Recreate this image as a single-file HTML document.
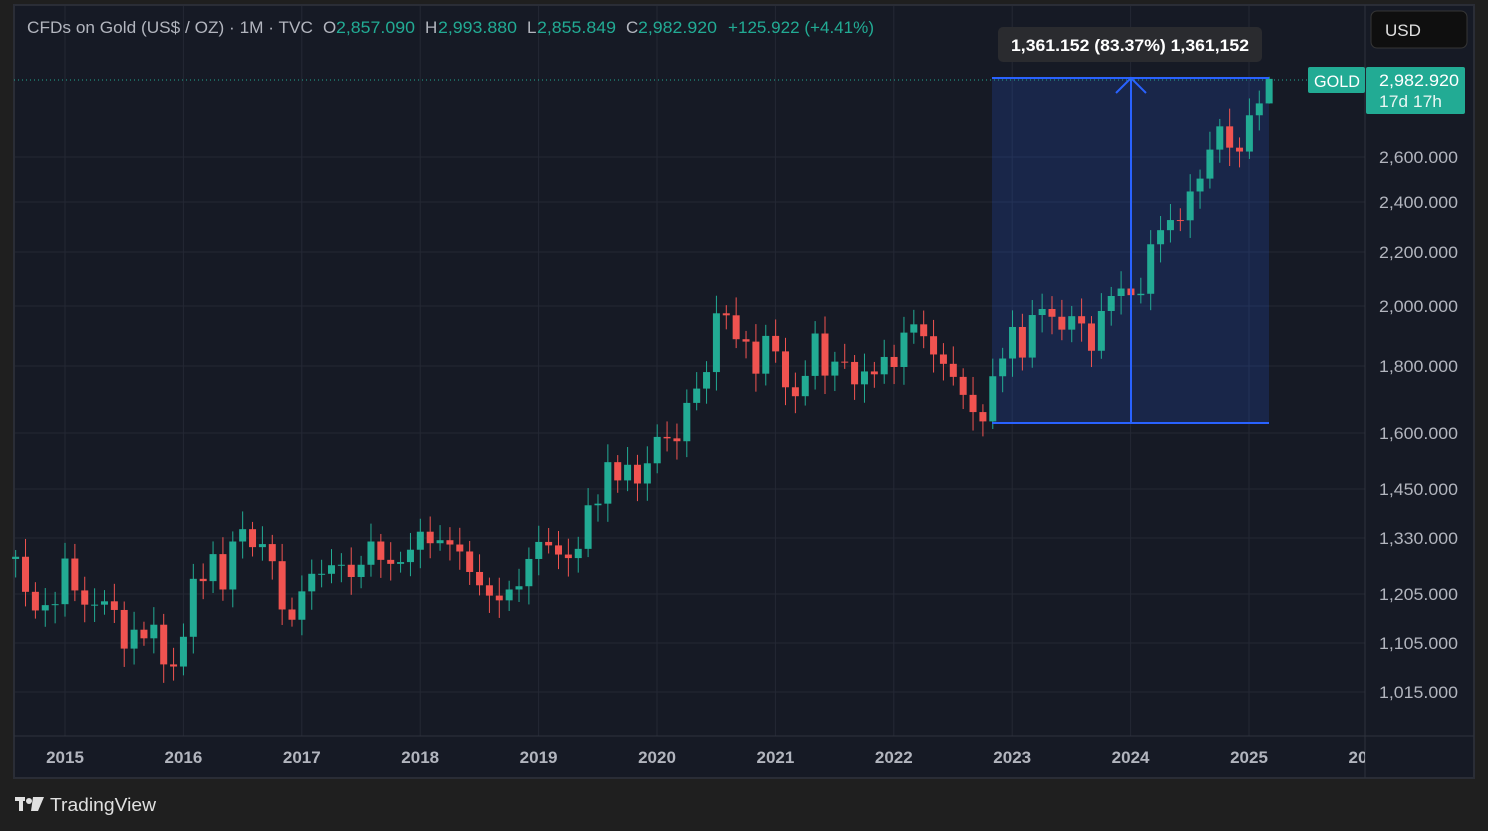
<!DOCTYPE html>
<html><head><meta charset="utf-8"><style>
body{margin:0;width:1488px;height:831px;background:#1f1f1f;overflow:hidden;font-family:"Liberation Sans",sans-serif}
svg{position:absolute;left:0;top:0}
</style></head><body>
<svg width="1488" height="831" xmlns="http://www.w3.org/2000/svg" font-family="Liberation Sans, sans-serif">
<rect x="14" y="5" width="1460" height="773" fill="#161a25" stroke="#2a2d36" stroke-width="2"/>
<g id="grid" stroke="#242834" stroke-width="1"></g>
<line x1="1365" y1="5" x2="1365" y2="778" stroke="#2e323d"/>
<line x1="14" y1="736" x2="1474" y2="736" stroke="#2e323d"/>
<rect x="992" y="78" width="277" height="345" fill="#2962ff" fill-opacity="0.17"/>
<g id="candles"></g>
<line x1="992" y1="78" x2="1269" y2="78" stroke="#2962ff" stroke-width="2"/>
<line x1="992" y1="423" x2="1269" y2="423" stroke="#2962ff" stroke-width="2"/>
<line x1="1131" y1="423" x2="1131" y2="79" stroke="#2962ff" stroke-width="2"/>
<polyline points="1116,93 1131,78 1146,93" fill="none" stroke="#2962ff" stroke-width="2"/>
<line x1="14" y1="80" x2="1308" y2="80" stroke="#22ab94" stroke-dasharray="1,3"/>
<rect x="998" y="27" width="264" height="35" rx="5" fill="#2a2b2f"/>
<text x="1011" y="51" fill="#fff" font-size="17" font-weight="bold" textLength="238" lengthAdjust="spacingAndGlyphs">1,361.152 (83.37%) 1,361,152</text>
<g font-size="17" fill="#b2b5be">
<text x="27" y="33" textLength="286" lengthAdjust="spacingAndGlyphs">CFDs on Gold (US$ / OZ) · 1M · TVC</text>
<text x="323" y="33">O</text><text x="336" y="33" fill="#22ab94" textLength="79" lengthAdjust="spacingAndGlyphs">2,857.090</text>
<text x="425" y="33">H</text><text x="438" y="33" fill="#22ab94" textLength="79" lengthAdjust="spacingAndGlyphs">2,993.880</text>
<text x="527" y="33">L</text><text x="537" y="33" fill="#22ab94" textLength="79" lengthAdjust="spacingAndGlyphs">2,855.849</text>
<text x="626" y="33">C</text><text x="638" y="33" fill="#22ab94" textLength="79" lengthAdjust="spacingAndGlyphs">2,982.920</text>
<text x="728" y="33" fill="#22ab94" textLength="146" lengthAdjust="spacingAndGlyphs">+125.922 (+4.41%)</text>
</g>
<rect x="1371" y="11" width="96" height="37" rx="6" fill="#0f0f0f" stroke="#363636"/>
<text x="1385" y="36" font-size="17" fill="#e0e0e0">USD</text>
<rect x="1308" y="67" width="57" height="26" rx="2" fill="#22ab94"/>
<text x="1314" y="87" font-size="17" fill="#fff" textLength="46" lengthAdjust="spacingAndGlyphs">GOLD</text>
<rect x="1366" y="67" width="99" height="47" rx="2" fill="#22ab94"/>
<text x="1379" y="86" font-size="17" fill="#fff" textLength="80" lengthAdjust="spacingAndGlyphs">2,982.920</text>
<text x="1379" y="107" font-size="17" fill="#e8f6f3" textLength="63" lengthAdjust="spacingAndGlyphs">17d 17h</text>
<g font-size="17" fill="#b2b5be">
<text x="1379" y="163" textLength="79" lengthAdjust="spacingAndGlyphs">2,600.000</text><text x="1379" y="208" textLength="79" lengthAdjust="spacingAndGlyphs">2,400.000</text><text x="1379" y="258" textLength="79" lengthAdjust="spacingAndGlyphs">2,200.000</text><text x="1379" y="312" textLength="79" lengthAdjust="spacingAndGlyphs">2,000.000</text><text x="1379" y="372" textLength="79" lengthAdjust="spacingAndGlyphs">1,800.000</text><text x="1379" y="439" textLength="79" lengthAdjust="spacingAndGlyphs">1,600.000</text><text x="1379" y="495" textLength="79" lengthAdjust="spacingAndGlyphs">1,450.000</text><text x="1379" y="544" textLength="79" lengthAdjust="spacingAndGlyphs">1,330.000</text><text x="1379" y="600" textLength="79" lengthAdjust="spacingAndGlyphs">1,205.000</text><text x="1379" y="649" textLength="79" lengthAdjust="spacingAndGlyphs">1,105.000</text><text x="1379" y="698" textLength="79" lengthAdjust="spacingAndGlyphs">1,015.000</text>
</g>
<svg x="14" y="736" width="1351" height="42"><g id="years" font-size="17" font-weight="bold" fill="#b2b5be" text-anchor="middle"></g></svg>
<g fill="#e0e0e0"><rect x="15" y="797" width="10" height="4"/><rect x="19" y="797" width="4" height="14"/><circle cx="29" cy="801" r="3"/><polygon points="33,797 44,797 38,811 31,811"/></g>
<text x="50" y="811" font-size="18" fill="#e0e0e0" textLength="106" lengthAdjust="spacingAndGlyphs">TradingView</text>
</svg>
<script>
const NS="http://www.w3.org/2000/svg";
function Y(p){return 433-(Math.log(p)-Math.log(1600))*568.5}
function X(m){return 65+m*9.87}
const g=document.getElementById('grid');
[157,202,252,306,366,433,489,538,594,643,692].forEach(y=>{let l=document.createElementNS(NS,'line');l.setAttribute('x1',15);l.setAttribute('x2',1365);l.setAttribute('y1',y);l.setAttribute('y2',y);g.appendChild(l)});
const yg=document.getElementById('years');
for(let i=0;i<12;i++){let x=65+i*118.4;if(i<11){let l=document.createElementNS(NS,'line');l.setAttribute('x1',x);l.setAttribute('x2',x);l.setAttribute('y1',6);l.setAttribute('y2',736);g.appendChild(l);}
let t=document.createElementNS(NS,'text');t.setAttribute('x',x-14);t.setAttribute('y',27);t.textContent=String(2015+i);yg.appendChild(t)}
const closes=[1287,1210,1171,1182,1184,
1283,1213,1183,1183,1190,1172,1095,1132,1115,1142,1065,1061,
1118,1238,1233,1293,1215,1322,1351,1309,1316,1277,1173,1152,
1211,1249,1249,1268,1269,1242,1269,1322,1280,1271,1275,1303,
1345,1318,1325,1315,1299,1253,1224,1202,1192,1215,1222,1282,
1321,1313,1292,1284,1305,1409,1413,1520,1472,1513,1464,1517,
1589,1585,1577,1687,1730,1781,1975,1968,1887,1879,1776,1898,
1847,1734,1707,1769,1906,1770,1814,1813,1743,1783,1774,1829,
1797,1909,1937,1897,1837,1807,1766,1711,1660,1633,1768,1824,
1928,1827,1969,1990,1963,1919,1965,1940,1849,1983,2036,2063,
2039,2044,2230,2286,2327,2326,2447,2503,2634,2744,2643,2625,
2798,2857,2983];
const c=document.getElementById('candles');let prev=1282;
closes.forEach((cl,i)=>{const m=i-5;const x=X(m);const o=prev;prev=cl;
const up=cl>=o;const col=up?'#22ab94':'#f05350';
const r1=0.012+0.02*Math.abs(Math.sin(i*1.7)),r2=0.012+0.02*Math.abs(Math.cos(i*2.3));
let h=Math.max(o,cl)*(1+r1),lo=Math.min(o,cl)*(1-r2);
if(i==closes.length-1){h=2993.88;lo=2855.85}
const w=document.createElementNS(NS,'line');w.setAttribute('x1',x);w.setAttribute('x2',x);w.setAttribute('y1',Y(h));w.setAttribute('y2',Y(lo));w.setAttribute('stroke',col);c.appendChild(w);
const b=document.createElementNS(NS,'rect');const y1=Y(Math.max(o,cl)),y2=Y(Math.min(o,cl));
b.setAttribute('x',x-3.5);b.setAttribute('width',7);b.setAttribute('y',y1);b.setAttribute('height',Math.max(1,y2-y1));b.setAttribute('fill',col);c.appendChild(b)});
</script>
</body></html>
